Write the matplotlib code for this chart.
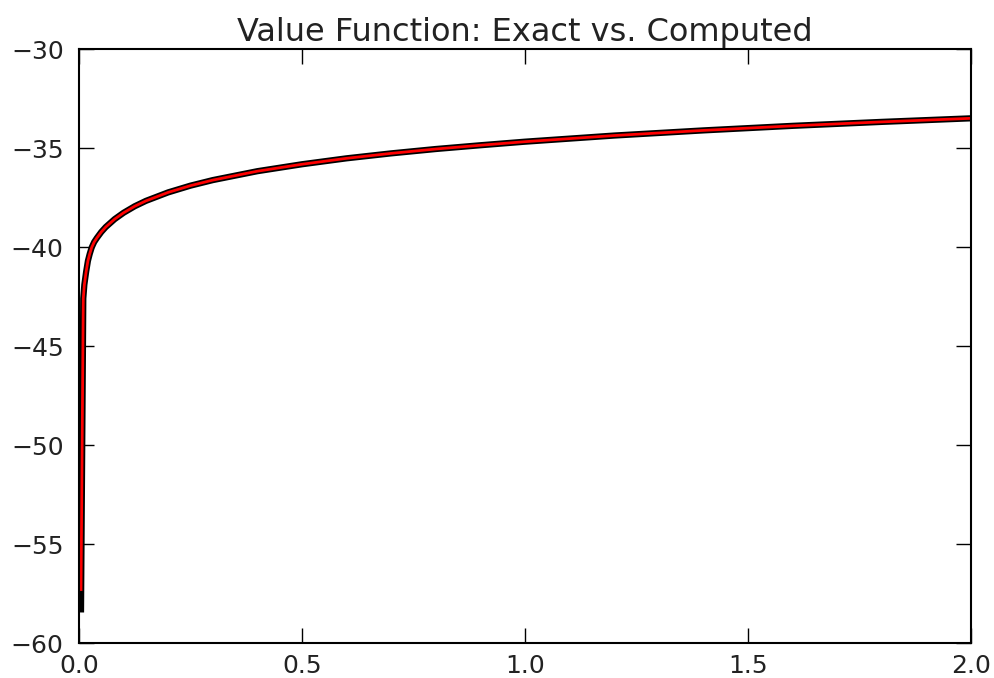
import numpy as np
import matplotlib
matplotlib.use('Agg')
import matplotlib.pyplot as plt

# capital grid and value function samples
k_grid = [0.0045, 0.0096, 0.012, 0.016, 0.02, 0.024, 0.0285, 0.034, 0.04, 0.05,
          0.06, 0.08, 0.1, 0.125, 0.15, 0.2, 0.25, 0.3, 0.4, 0.5,
          0.6, 0.7, 0.8, 0.9, 1.0, 1.2, 1.4, 1.6, 1.8, 2.0]
v_exact = [-58.3, -42.6, -41.9, -41.25, -40.7, -40.35, -40.02, -39.75, -39.545, -39.24,
           -38.99, -38.59, -38.27, -37.94, -37.67, -37.24, -36.90, -36.62, -36.17, -35.82,
           -35.52, -35.27, -35.05, -34.86, -34.68, -34.37, -34.11, -33.88, -33.68, -33.50]
v_computed = [-57.3, -42.6, -41.9, -41.25, -40.7, -40.35, -40.02, -39.75, -39.545, -39.24,
              -38.99, -38.59, -38.27, -37.94, -37.67, -37.24, -36.90, -36.62, -36.17, -35.82,
              -35.52, -35.27, -35.05, -34.86, -34.68, -34.37, -34.11, -33.88, -33.68, -33.50]

plt.rcParams['font.family'] = 'DejaVu Sans'

fig = plt.figure(figsize=(9.95, 6.78), dpi=100)
ax = fig.add_axes([0.0794, 0.0516, 0.8965, 0.8761])

ax.plot(k_grid, v_exact, color='k', linewidth=4.5)
ax.plot(k_grid, v_computed, color='r', linewidth=2)

ax.set_xlim(0, 2)
ax.set_ylim(-60, -30)
ax.set_xticks(np.arange(0, 2.01, 0.5))
ax.set_yticks(np.arange(-60, -29, 5))
ax.tick_params(direction='in', length=11, width=1, top=True, right=True,
               labelsize=18, labelcolor='#222222')
ax.tick_params(axis='y', pad=11)
ax.tick_params(axis='x', pad=8)
for s in ax.spines.values():
    s.set_linewidth(1.5)

ax.set_title('Value Function: Exact vs. Computed', fontsize=23, pad=6,
             color='#222222')

fig.savefig('out.png', dpi=100)
